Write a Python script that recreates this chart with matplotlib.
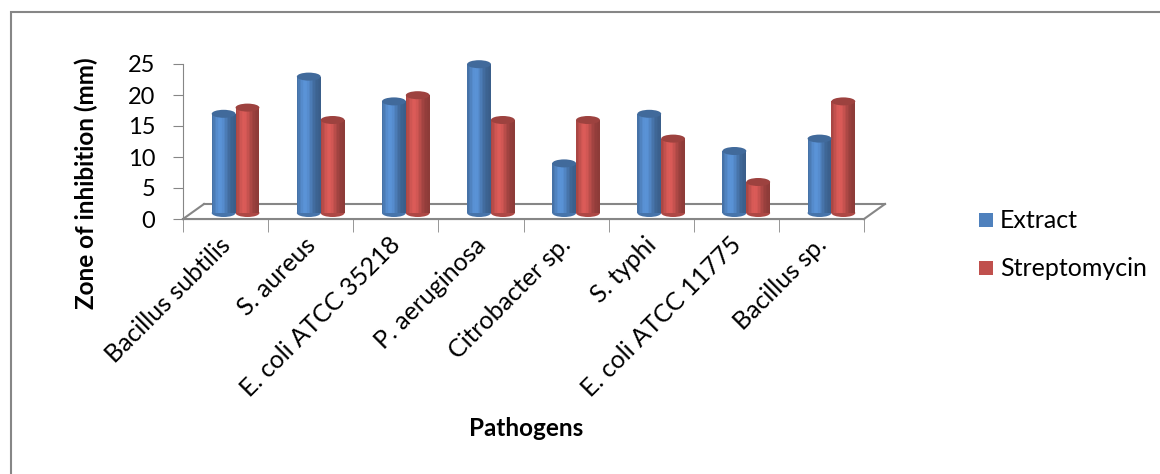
import numpy as np
import matplotlib
matplotlib.use('Agg')
import matplotlib.pyplot as plt
from matplotlib.patches import Ellipse, Rectangle
from matplotlib.transforms import offset_copy
from matplotlib.colors import to_rgb

pathogens = ['Bacillus subtilis', 'S. aureus', 'E. coli ATCC 35218', 'P. aeruginosa',
             'Citrobacter sp.', 'S. typhi', 'E. coli ATCC 11775', 'Bacillus sp.']
extract = [16, 22, 18, 24, 8, 16, 10, 12]
streptomycin = [17, 15, 19, 15, 15, 12, 5, 18]
series_names = ['Extract', 'Streptomycin']
series_colors = ['#4F81BD', '#C0504D']

plt.rcParams['font.family'] = ['Lato', 'DejaVu Sans']
GRAY = '#868686'

W, H = 1160, 474
fig = plt.figure(figsize=(W / 100, H / 100), dpi=100)

def px(x0, y0, x1, y1):
    # pixel box (top-left origin) -> figure fraction rect
    return [x0 / W, 1 - y1 / H, (x1 - x0) / W, (y1 - y0) / H]

# chart border
fig.patches.append(Rectangle((11 / W, -0.05), 1.2, 1 - 12 / H + 0.05, transform=fig.transFigure,
                             fill=False, edgecolor=GRAY, linewidth=1.5))

ax = fig.add_axes(px(183, 64, 864, 219))
ax.set_xlim(-0.5, len(pathogens) - 0.5)
ax.set_ylim(0, 25)
for s in ['top', 'right']:
    ax.spines[s].set_visible(False)
ax.spines['left'].set_color(GRAY)
ax.spines['bottom'].set_color(GRAY)
ax.patch.set_alpha(0)

ax.set_yticks(np.arange(0, 26, 5))
ax.tick_params(axis='y', direction='out', length=7, color=GRAY, labelsize=17, pad=13)
ax.set_xticks(np.arange(-0.5, len(pathogens)), minor=True)
ax.tick_params(axis='x', which='minor', direction='out', length=9, color=GRAY)
ax.set_xticks(np.arange(len(pathogens)), pathogens, rotation=45, ha='right',
              rotation_mode='anchor', fontsize=18)
ax.tick_params(axis='x', which='major', length=0, pad=0)
for lbl in ax.get_xticklabels():
    lbl.set_transform(offset_copy(lbl.get_transform(), fig=fig, x=-7, y=-14, units='dots'))

# 3D floor
back = offset_copy(ax.transData, fig=fig, x=21, y=15, units='dots')
x0, x1 = -0.5, len(pathogens) - 0.5
ax.plot([x0, x1], [0, 0], transform=back, color=GRAY, lw=1.5, clip_on=False)
p0 = ax.transData.transform((x0, 0)); p0b = back.transform((x0, 0))
p1 = ax.transData.transform((x1, 0)); p1b = back.transform((x1, 0))
for a, b in [(p0, p0b), (p1, p1b)]:
    fig.add_artist(plt.Line2D([a[0] / W, b[0] / W], [a[1] / H, b[1] / H], color=GRAY, lw=1.5))
ax.plot([x0, x1], [0, 0], color=GRAY, lw=1.5, clip_on=False)

# cylinders
bar_tr = offset_copy(ax.transData, fig=fig, x=10, y=6, units='dots')
bw = 0.28
ell_h = 8 / 6.2
nstrip = 16
t = (np.arange(nstrip) + 0.5) / nstrip
shade = 0.72 + 0.42 * np.exp(-((t - 0.35) / 0.33) ** 2)
xs = np.arange(len(pathogens))
for k, vals in enumerate([extract, streptomycin]):
    base = np.array(to_rgb(series_colors[k]))
    centers = xs + (k - 0.5) * bw
    for c, v in zip(centers, vals):
        ax.add_patch(Ellipse((c, 0), bw, ell_h, transform=bar_tr, facecolor=base * 0.9,
                             edgecolor='none', clip_on=False, zorder=2))
        for i in range(nstrip):
            col = np.clip(base * shade[i], 0, 1)
            ax.bar(c - bw / 2 + (i + 0.5) * bw / nstrip, v, bw / nstrip * 1.02, bottom=0,
                   color=col, transform=bar_tr, clip_on=False, zorder=3, linewidth=0)
        ax.add_patch(Ellipse((c, v), bw, ell_h, transform=bar_tr, facecolor=base * 0.82,
                             edgecolor='none', clip_on=False, zorder=4))

ax.set_ylabel('Zone of inhibition (mm)', fontsize=17.5, fontweight='bold')
ax.yaxis.set_label_coords(-85 / 681, (219 - 183) / 155)
fig.text(526 / W, 1 - 428 / H, 'Pathogens', fontsize=17.5, fontweight='bold', ha='center', va='center')

# legend
for k, name in enumerate(series_names):
    y = 220 + 48 * k
    fig.patches.append(Rectangle((979 / W, 1 - (y + 7) / H), 14 / W, 14 / H,
                                 transform=fig.transFigure, facecolor=series_colors[k], edgecolor='none'))
    fig.text(1000 / W, 1 - y / H, name, fontsize=18, ha='left', va='center')

fig.savefig('out.png', dpi=100)
